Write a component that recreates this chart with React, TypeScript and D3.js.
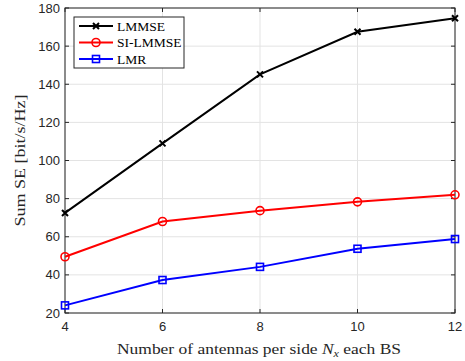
import React from 'react';
import * as d3 from 'd3';

// antennas per side
const antennas = [4, 6, 8, 10, 12];
const lmmse = [72.5, 109, 145.2, 167.5, 174.6];
const siLmmse = [49.5, 68, 73.7, 78.3, 82];
const lmr = [24, 37.3, 44.2, 53.7, 58.8];
const yTicks = [20, 40, 60, 80, 100, 120, 140, 160, 180];
const xTicks = [4, 6, 8, 10, 12];

const seriesList = [
  { name: 'LMMSE', values: lmmse, color: '#000000', marker: 'x' },
  { name: 'SI-LMMSE', values: siLmmse, color: '#ff0000', marker: 'o' },
  { name: 'LMR', values: lmr, color: '#0000ff', marker: 's' },
];

const W = 465;
const H = 361;
const margin = { top: 8, right: 10, bottom: 48, left: 65 };

const serif = '"Liberation Serif", "DejaVu Serif", serif';
const sans = '"Liberation Sans", Arial, sans-serif';

function Marker({ type, x, y, color }: { type: string; x: number; y: number; color: string }) {
  if (type === 'x') {
    const r = 3;
    return (
      <path d={`M${x - r},${y - r}L${x + r},${y + r}M${x - r},${y + r}L${x + r},${y - r}`} stroke={color} strokeWidth={2} />
    );
  }
  if (type === 'o') {
    return <circle cx={x} cy={y} r={4} fill="none" stroke={color} strokeWidth={1.6} />;
  }
  return <rect x={x - 3.5} y={y - 3.5} width={7} height={7} fill="none" stroke={color} strokeWidth={1.6} />;
}

export default function App() {
  const x = d3.scaleLinear().domain([4, 12]).range([margin.left, W - margin.right]);
  const y = d3.scaleLinear().domain([20, 180]).range([H - margin.bottom, margin.top]);
  const line = d3.line<number>()
    .x((_, i) => x(antennas[i]))
    .y(d => y(d));

  const x0 = x.range()[0], x1 = x.range()[1];
  const y0 = y.range()[0], y1 = y.range()[1];

  return (
    <svg width={W} height={H} style={{ position: 'absolute', left: 0, top: 0, background: '#fff' }}>
      <rect x={0} y={0} width={W} height={H} fill="#fff" />
      {/* grid */}
      {xTicks.map(t => (
        <line key={'gx' + t} x1={x(t)} x2={x(t)} y1={y0} y2={y1} stroke="#e3e3e3" strokeWidth={1} />
      ))}
      {yTicks.map(t => (
        <line key={'gy' + t} x1={x0} x2={x1} y1={y(t)} y2={y(t)} stroke="#e3e3e3" strokeWidth={1} />
      ))}
      {/* ticks */}
      {xTicks.map(t => (
        <g key={'tx' + t}>
          <line x1={x(t)} x2={x(t)} y1={y0} y2={y0 - 4} stroke="#262626" />
          <line x1={x(t)} x2={x(t)} y1={y1} y2={y1 + 4} stroke="#262626" />
          <text x={x(t)} y={y0 + 18} textAnchor="middle" fontFamily={sans} fontSize={13} fill="#262626">{t}</text>
        </g>
      ))}
      {yTicks.map(t => (
        <g key={'ty' + t}>
          <line x1={x0} x2={x0 + 4} y1={y(t)} y2={y(t)} stroke="#262626" />
          <line x1={x1} x2={x1 - 4} y1={y(t)} y2={y(t)} stroke="#262626" />
          <text x={x0 - 5} y={y(t) + 4.5} textAnchor="end" fontFamily={sans} fontSize={13} fill="#262626">{t}</text>
        </g>
      ))}
      <rect x={x0} y={y1} width={x1 - x0} height={y0 - y1} fill="none" stroke="#262626" strokeWidth={1} />
      {/* series */}
      {seriesList.map(s => (
        <g key={s.name}>
          <path d={line(s.values) || ''} fill="none" stroke={s.color} strokeWidth={2} />
          {s.values.map((v, i) => (
            <Marker key={i} type={s.marker} x={x(antennas[i])} y={y(v)} color={s.color} />
          ))}
        </g>
      ))}
      {/* legend */}
      <g transform="translate(74,17)">
        <rect x={0} y={0} width={110} height={51} fill="#fff" stroke="#262626" strokeWidth={1} />
        {seriesList.map((s, i) => (
          <g key={s.name} transform={`translate(0,${9 + i * 16.5})`}>
            <line x1={5} x2={39} y1={0} y2={0} stroke={s.color} strokeWidth={2} />
            <Marker type={s.marker} x={22} y={0} color={s.color} />
            <text x={43} y={4.5} fontFamily={serif} fontSize={13.5} fill="#000">{s.name}</text>
          </g>
        ))}
      </g>
      {/* axis labels */}
      <text x={117} y={354} fontFamily={serif} fontSize={14.5} fill="#262626" textLength={284} lengthAdjust="spacingAndGlyphs">
        Number of antennas per side <tspan fontStyle="italic">N</tspan><tspan fontStyle="italic" fontSize={10} dy={3}>x</tspan><tspan dy={-3}> each BS</tspan>
      </text>
      <text transform={`translate(25,${(y0 + y1) / 2}) rotate(-90)`} textAnchor="middle" fontFamily={serif} fontSize={14.5} fill="#262626" textLength={132} lengthAdjust="spacingAndGlyphs">
        Sum SE [bit/s/Hz]
      </text>
    </svg>
  );
}
